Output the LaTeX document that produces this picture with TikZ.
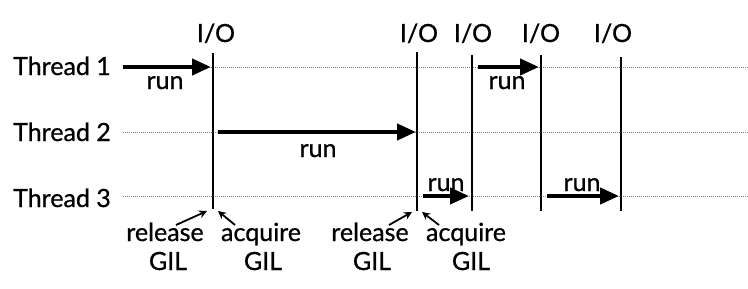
\documentclass[tikz,border=0pt]{standalone}
\usepackage{fontspec}
\setmainfont{Lato}[FakeBold=0.8]
\usetikzlibrary{arrows.meta}
\begin{document}
\begin{tikzpicture}[x=1pt,y=-1pt,
  lbl/.style={inner sep=0pt, anchor=base, font=\fontsize{25}{29}\selectfont},
  guide/.style={gray, densely dotted, line width=1pt},
  bar/.style={line width=2.8pt},
  runarrow/.style={line width=4.2pt, -{Triangle[length=19pt,width=16pt]}},
  gilarrow/.style={line width=1.8pt, -{Stealth[length=8pt,width=8pt]}}]
\useasboundingbox[fill=white] (0,0) rectangle (748,289);
% thread labels
\node[lbl] (t1) at (62,75) {Thread 1};
\node[lbl] (t2) at (62,141) {Thread 2};
\node[lbl] (t3) at (62,207) {Thread 3};
% guides
\coordinate (g1s) at (123,67); \coordinate (g1e) at (748,67);
\coordinate (g2s) at (123,132); \coordinate (g2e) at (748,132);
\coordinate (g3s) at (123,196); \coordinate (g3e) at (748,196);
\draw[guide] (g1s) -- (g1e);
\draw[guide] (g2s) -- (g2e);
\draw[guide] (g3s) -- (g3e);
% I/O bars
\coordinate (v1t) at (213,53); \coordinate (v1b) at (213,209);
\coordinate (v2t) at (417,52); \coordinate (v2b) at (417,211);
\coordinate (v3t) at (472,55); \coordinate (v3b) at (472,211);
\coordinate (v4t) at (541,55); \coordinate (v4b) at (541,211);
\coordinate (v5t) at (621,57); \coordinate (v5b) at (621,211);
\foreach \i in {1,...,5} \draw[bar] (v\i t) -- (v\i b);
\node[lbl] (io1) at (216,42) {I/O};
\node[lbl] (io2) at (419,42) {I/O};
\node[lbl] (io3) at (473,42) {I/O};
\node[lbl] (io4) at (541,42) {I/O};
\node[lbl] (io5) at (613,42) {I/O};
% run arrows
\coordinate (a1s) at (123,67); \coordinate (a1e) at (211,67);
\coordinate (a2s) at (218,132); \coordinate (a2e) at (416,132);
\coordinate (a3s) at (478,67); \coordinate (a3e) at (539,67);
\coordinate (a4s) at (423,196); \coordinate (a4e) at (469,196);
\coordinate (a5s) at (547,196); \coordinate (a5e) at (619,196);
\foreach \i in {1,...,5} \draw[runarrow] (a\i s) -- (a\i e);
\node[lbl] (run1) at (165,89) {run};
\node[lbl] (run2) at (318,157) {run};
\node[lbl] (run3) at (507,89) {run};
\node[lbl] (run4) at (446,191) {run};
\node[lbl] (run5) at (582,191) {run};
% GIL labels
\node[lbl] (rel1) at (165,241) {release};
\node[lbl] (relg1) at (168,270) {GIL};
\node[lbl] (acq1) at (261,241) {acquire};
\node[lbl] (acqg1) at (263,270) {GIL};
\node[lbl] (rel2) at (370,241) {release};
\node[lbl] (relg2) at (372,270) {GIL};
\node[lbl] (acq2) at (466,241) {acquire};
\node[lbl] (acqg2) at (471,270) {GIL};
% GIL arrows
\coordinate (r1s) at (176,225); \coordinate (r1e) at (207,211);
\coordinate (q1s) at (235,225); \coordinate (q1e) at (218,211);
\coordinate (r2s) at (389,225); \coordinate (r2e) at (412,212);
\coordinate (q2s) at (439,225); \coordinate (q2e) at (422,212);
\draw[gilarrow] (r1s) -- (r1e);
\draw[gilarrow] (q1s) -- (q1e);
\draw[gilarrow] (r2s) -- (r2e);
\draw[gilarrow] (q2s) -- (q2e);
\end{tikzpicture}
\end{document}
